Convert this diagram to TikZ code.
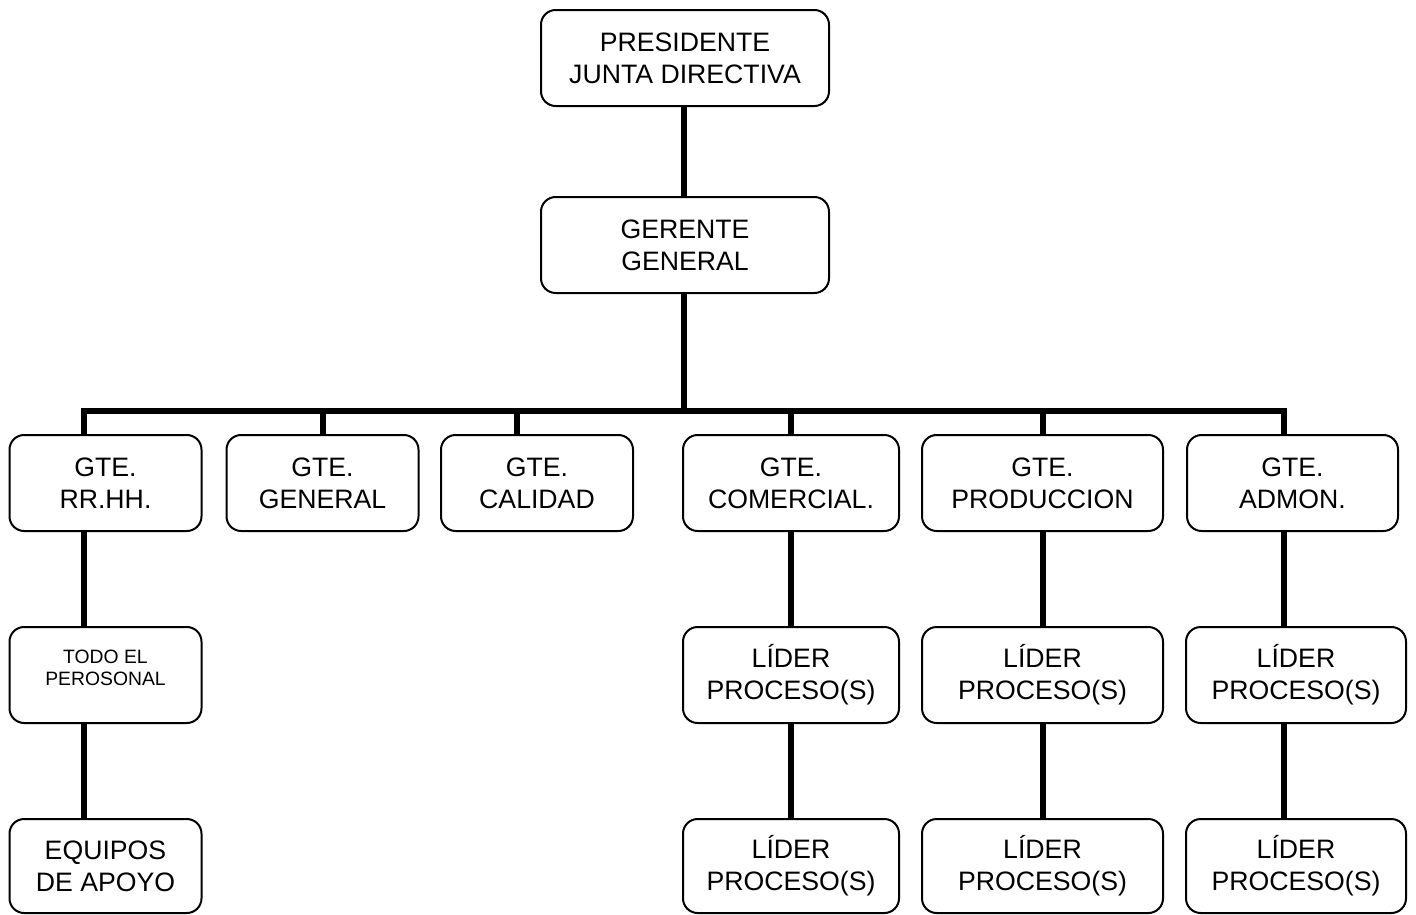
\documentclass[tikz,border=0pt]{standalone}
\usepackage{fontspec}
\setmainfont{Liberation Sans}
\begin{document}
\begin{tikzpicture}[x=0.75pt,y=-0.75pt,
  box/.style={draw=black,line width=1.5pt,rounded corners=11pt,fill=white,
    minimum height=96*0.75pt,inner sep=0pt,align=center,
    font=\fontsize{20}{24}\selectfont},
  smalltext/.style={align=center,inner sep=0pt,font=\fontsize{14.5}{16.5}\selectfont},
  conn/.style={line width=4.5pt,line join=miter}]
\useasboundingbox (0,0) rectangle (1416,914);
% top
\node[box,minimum width=288*0.75pt] (pres) at (685,58) {PRESIDENTE\\JUNTA DIRECTIVA};
\node[box,minimum width=288*0.75pt] (ger) at (685,245) {GERENTE\\GENERAL};
% row 2
\node[box,minimum width=192*0.75pt] (rrhh) at (105.5,483) {GTE.\\RR.HH.};
\node[box,minimum width=192*0.75pt] (gen) at (322.5,483) {GTE.\\GENERAL};
\node[box,minimum width=192*0.75pt] (cal) at (537,483) {GTE.\\CALIDAD};
\node[box,minimum width=216*0.75pt] (com) at (791,483) {GTE.\\COMERCIAL.};
\node[box,minimum width=241*0.75pt] (prod) at (1042.5,483) {GTE.\\PRODUCCION};
\node[box,minimum width=211*0.75pt] (adm) at (1292.5,483) {GTE.\\ADMON.};
% row 3
\node[box,minimum width=192*0.75pt] (todo) at (105.5,675) {};
\node[smalltext] (todotext) at (105.5,668) {TODO EL\\PEROSONAL};
\node[box,minimum width=216*0.75pt] (la1) at (791,675) {LÍDER\\PROCESO(S)};
\node[box,minimum width=241*0.75pt] (la2) at (1042.5,675) {LÍDER\\PROCESO(S)};
\node[box,minimum width=220*0.75pt] (la3) at (1296,675) {LÍDER\\PROCESO(S)};
% row 4
\node[box,minimum width=192*0.75pt,minimum height=94*0.75pt] (equ) at (105.5,866) {EQUIPOS\\DE APOYO};
\node[box,minimum width=216*0.75pt,minimum height=94*0.75pt] (lb1) at (791,866) {LÍDER\\PROCESO(S)};
\node[box,minimum width=241*0.75pt,minimum height=94*0.75pt] (lb2) at (1042.5,866) {LÍDER\\PROCESO(S)};
\node[box,minimum width=220*0.75pt,minimum height=94*0.75pt] (lb3) at (1296,866) {LÍDER\\PROCESO(S)};
% bar coordinates
\coordinate (b1) at (84,411);
\coordinate (b2) at (322.5,411);
\coordinate (b3) at (516.5,411);
\coordinate (b4) at (791,411);
\coordinate (b5) at (1042.5,411);
\coordinate (b6) at (1284,411);
\coordinate (bm) at (684,411);
% connectors
\draw[conn] (pres.south -| bm) -- (ger.north -| bm);
\draw[conn] (ger.south -| bm) -- (bm);
\draw[conn] (b1 |- rrhh.north) -- (b1) -- (b6) -- (b6 |- adm.north);
\draw[conn] (b2) -- (b2 |- gen.north);
\draw[conn] (b3) -- (b3 |- cal.north);
\draw[conn] (b4) -- (b4 |- com.north);
\draw[conn] (b5) -- (b5 |- prod.north);
\draw[conn] (rrhh.south -| b1) -- (todo.north -| b1);
\draw[conn] (todo.south -| b1) -- (equ.north -| b1);
\draw[conn] (com.south) -- (la1.north);
\draw[conn] (la1.south) -- (lb1.north);
\draw[conn] (prod.south) -- (la2.north);
\draw[conn] (la2.south) -- (lb2.north);
\draw[conn] (adm.south -| b6) -- (la3.north -| b6);
\draw[conn] (la3.south -| b6) -- (lb3.north -| b6);
\end{tikzpicture}
\end{document}
